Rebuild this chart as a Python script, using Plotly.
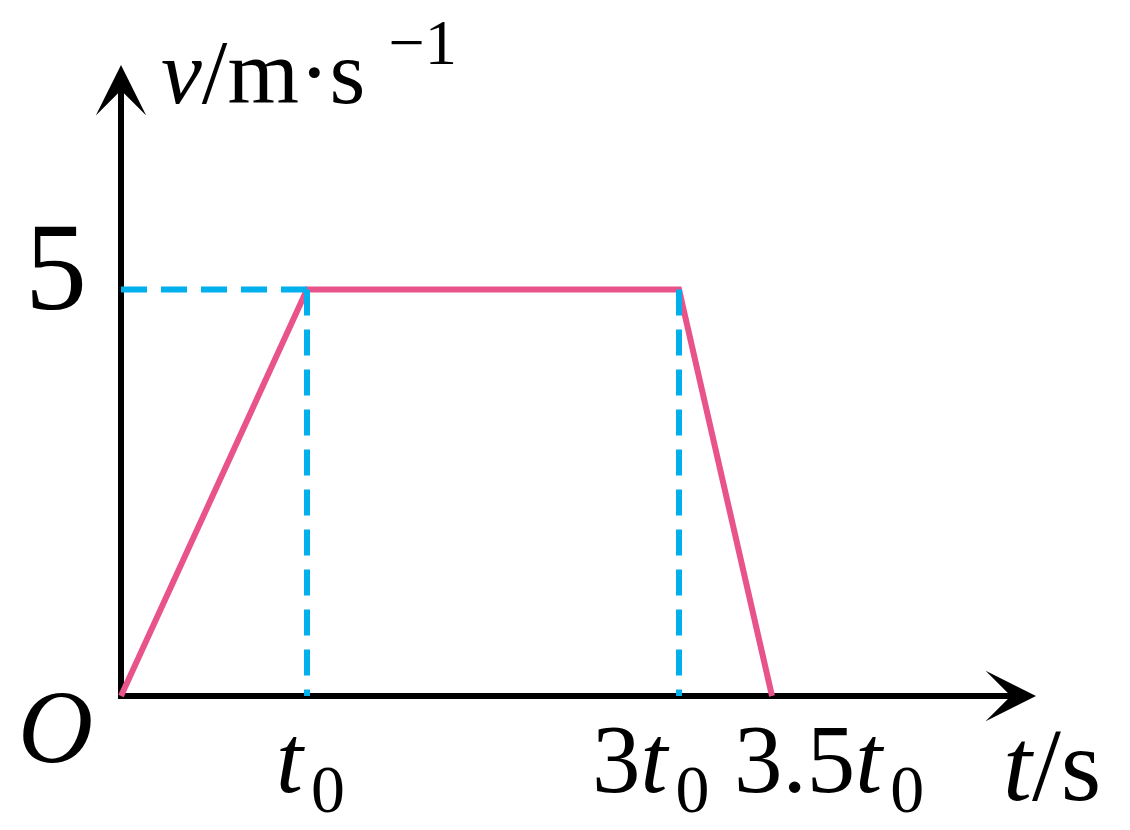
import plotly.graph_objects as go

# data (time in units of t0, velocity in m/s)
t_vals = [0, 1, 3, 3.5]
v_vals = [0, 5, 5, 0]
x_tick_vals = [1, 3, 3.5]
x_tick_text = ["<i>t</i>\u200a<sub>0</sub>", "3<i>t</i>\u200a<sub>0</sub>", "3.5<i>t</i>\u200a<sub>0</sub>"]
y_tick_vals = [5]
y_tick_text = ["5"]

PINK = "#E8538A"
BLUE = "#00B0EC"
FONT = "Liberation Serif"

BODY = 8                      # default page margin of the html body
W, H = 1130 - BODY, 830 - BODY
ox, oy = 121 - BODY, 696 - BODY   # pixel position of origin inside the figure
sx, sy = 186, 81.3                 # pixels per unit
xr = [-ox / sx, (W - ox) / sx]
yr = [-(H - oy) / sy, oy / sy]

x_tip = (1036 - BODY - ox) / sx
y_tip = (oy - (65 - BODY)) / sy

fig = go.Figure()

# axis lines
fig.add_trace(go.Scatter(x=[-3 / sx, x_tip - 0.2], y=[0, 0], mode="lines",
                         line=dict(color="black", width=6), hoverinfo="skip"))
fig.add_trace(go.Scatter(x=[0, 0], y=[-3 / sy, y_tip - 0.4], mode="lines",
                         line=dict(color="black", width=6), hoverinfo="skip"))

# v-t graph
fig.add_trace(go.Scatter(x=t_vals, y=v_vals, mode="lines",
                         line=dict(color=PINK, width=6), hoverinfo="skip"))

# dashed helper lines
dash = "26px,14px"
fig.add_trace(go.Scatter(x=[0, t_vals[1]], y=[v_vals[1], v_vals[1]], mode="lines",
                         line=dict(color=BLUE, width=6, dash=dash), hoverinfo="skip"))
for i in (1, 2):
    fig.add_trace(go.Scatter(x=[t_vals[i], t_vals[i]], y=[v_vals[i], 0], mode="lines",
                             line=dict(color=BLUE, width=6, dash=dash), hoverinfo="skip"))

ann = []
# arrow heads
ann.append(dict(x=x_tip, y=0, ax=x_tip - 0.3, ay=0, xref="x", yref="y", axref="x", ayref="y",
                showarrow=True, arrowhead=3, arrowsize=1.4, arrowwidth=6, arrowcolor="black", text=""))
ann.append(dict(x=0, y=y_tip, ax=0, ay=y_tip - 0.6, xref="x", yref="y", axref="x", ayref="y",
                showarrow=True, arrowhead=3, arrowsize=1.4, arrowwidth=6, arrowcolor="black", text=""))

fs = 97
shifts = [3, -28, 57]
for xv, txt, xs in zip(x_tick_vals, x_tick_text, shifts):
    ann.append(dict(x=xv, y=0, xref="x", yref="y", text=txt, showarrow=False,
                    xanchor="center", yanchor="middle", xshift=xs, yshift=-70,
                    font=dict(family=FONT, size=fs, color="black")))
for yv, txt in zip(y_tick_vals, y_tick_text):
    ann.append(dict(x=0, y=yv, xref="x", yref="y", text=txt, showarrow=False,
                    xanchor="right", yanchor="middle", xshift=-32, yshift=22,
                    font=dict(family=FONT, size=124, color="black")))
# origin
ann.append(dict(x=0, y=0, xref="x", yref="y", text="<i>O</i>", showarrow=False,
                xanchor="right", yanchor="middle", xshift=-26, yshift=-30,
                font=dict(family=FONT, size=104, color="black")))
# axis titles
ann.append(dict(x=x_tip, y=0, xref="x", yref="y", text="<i>t</i>/s", showarrow=False,
                xanchor="center", yanchor="middle", xshift=16, yshift=-68,
                font=dict(family=FONT, size=104, color="black")))
ann.append(dict(x=0, y=y_tip, xref="x", yref="y", text="<i>v</i>/m·s <sup>−1</sup>", showarrow=False,
                xanchor="left", yanchor="middle", xshift=38, yshift=0,
                font=dict(family=FONT, size=92, color="black")))

fig.update_layout(
    width=W, height=H, margin=dict(l=0, r=0, t=0, b=0),
    paper_bgcolor="white", plot_bgcolor="white", showlegend=False,
    xaxis=dict(range=xr, visible=False, fixedrange=True),
    yaxis=dict(range=yr, visible=False, fixedrange=True),
    annotations=ann,
)
fig.write_html("out.html", config={"displayModeBar": False})
